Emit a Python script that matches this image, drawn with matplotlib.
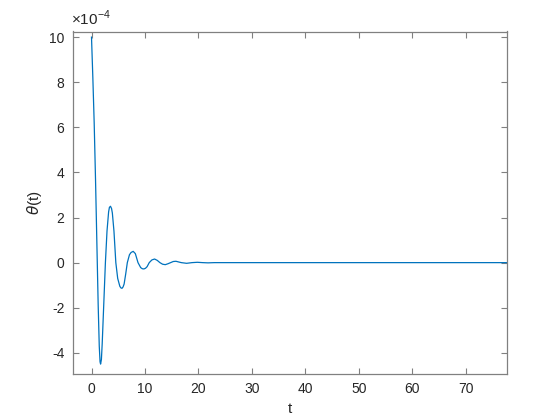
import matplotlib
matplotlib.use("Agg")
import matplotlib.pyplot as plt

# readings, theta in units of 1e-4
t = [0, 0.25, 0.5, 0.75, 1.0, 1.25, 1.45, 1.6, 1.7, 1.85, 2.0, 2.3, 2.6, 2.9, 3.2,
     3.35, 3.55, 3.75, 3.9, 4.2, 4.55, 4.9, 5.3, 5.5, 5.7, 5.9, 6.1, 6.4, 6.7,
     7.1, 7.4, 7.8, 8.2, 8.7, 9.2, 9.5, 9.8, 10.1, 10.4, 10.8, 11.3, 11.8, 12.3,
     12.8, 13.3, 13.8, 14.3, 14.8, 15.3, 15.8, 16.3, 16.8, 17.8, 18.8, 19.8,
     20.8, 21.8, 23.0, 30.0, 50.0, 80.0]
theta = [10.0, 8.2, 6.2, 3.7, 0.9, -1.9, -3.7, -4.4, -4.5, -4.3, -3.6, -1.8, 0.0,
         1.4, 2.25, 2.45, 2.5, 2.4, 2.2, 1.4, 0.0, -0.7, -1.05, -1.12, -1.14,
         -1.08, -0.95, -0.5, 0.0, 0.35, 0.45, 0.5, 0.4, 0.0, -0.22, -0.27, -0.28,
         -0.25, -0.18, 0.0, 0.12, 0.16, 0.1, 0.0, -0.07, -0.09, -0.05, 0.0, 0.05,
         0.06, 0.03, 0.0, -0.03, 0.0, 0.015, 0.0, -0.01, 0.0, 0.0, 0.0, 0.0]

xticks = [0, 10, 20, 30, 40, 50, 60, 70]
yticks = [-4, -2, 0, 2, 4, 6, 8, 10]

plt.rcParams.update({
    "font.family": ["Liberation Sans", "DejaVu Sans"],
    "font.size": 10,
    "axes.unicode_minus": False,
})

fig = plt.figure(figsize=(5.6, 4.2), dpi=100)
ax = fig.add_axes([0.13, 0.11, 0.775, 0.815])
ax.plot(t, theta, color="#0072BD", linewidth=0.9)

ax.set_xlim(-3.5, 77.7)
ax.set_ylim(-4.93, 10.25)
ax.set_xticks(xticks)
ax.set_yticks(yticks)

for s in ax.spines.values():
    s.set_color("#808080")
    s.set_linewidth(0.9)
ax.tick_params(direction="in", top=True, right=True, length=4, width=0.8,
               color="#808080", labelcolor="#262626", labelsize=10, pad=6)

ax.set_xlabel("t", color="#262626", fontsize=11)
ax.set_ylabel(r"$\theta$(t)", color="#262626", fontsize=11)
ax.text(-0.005, 1.01, "×10$^{\\mathregular{-4}}$", transform=ax.transAxes,
        fontsize=11, color="#262626", ha="left", va="bottom")

fig.savefig("out.png", dpi=100)
